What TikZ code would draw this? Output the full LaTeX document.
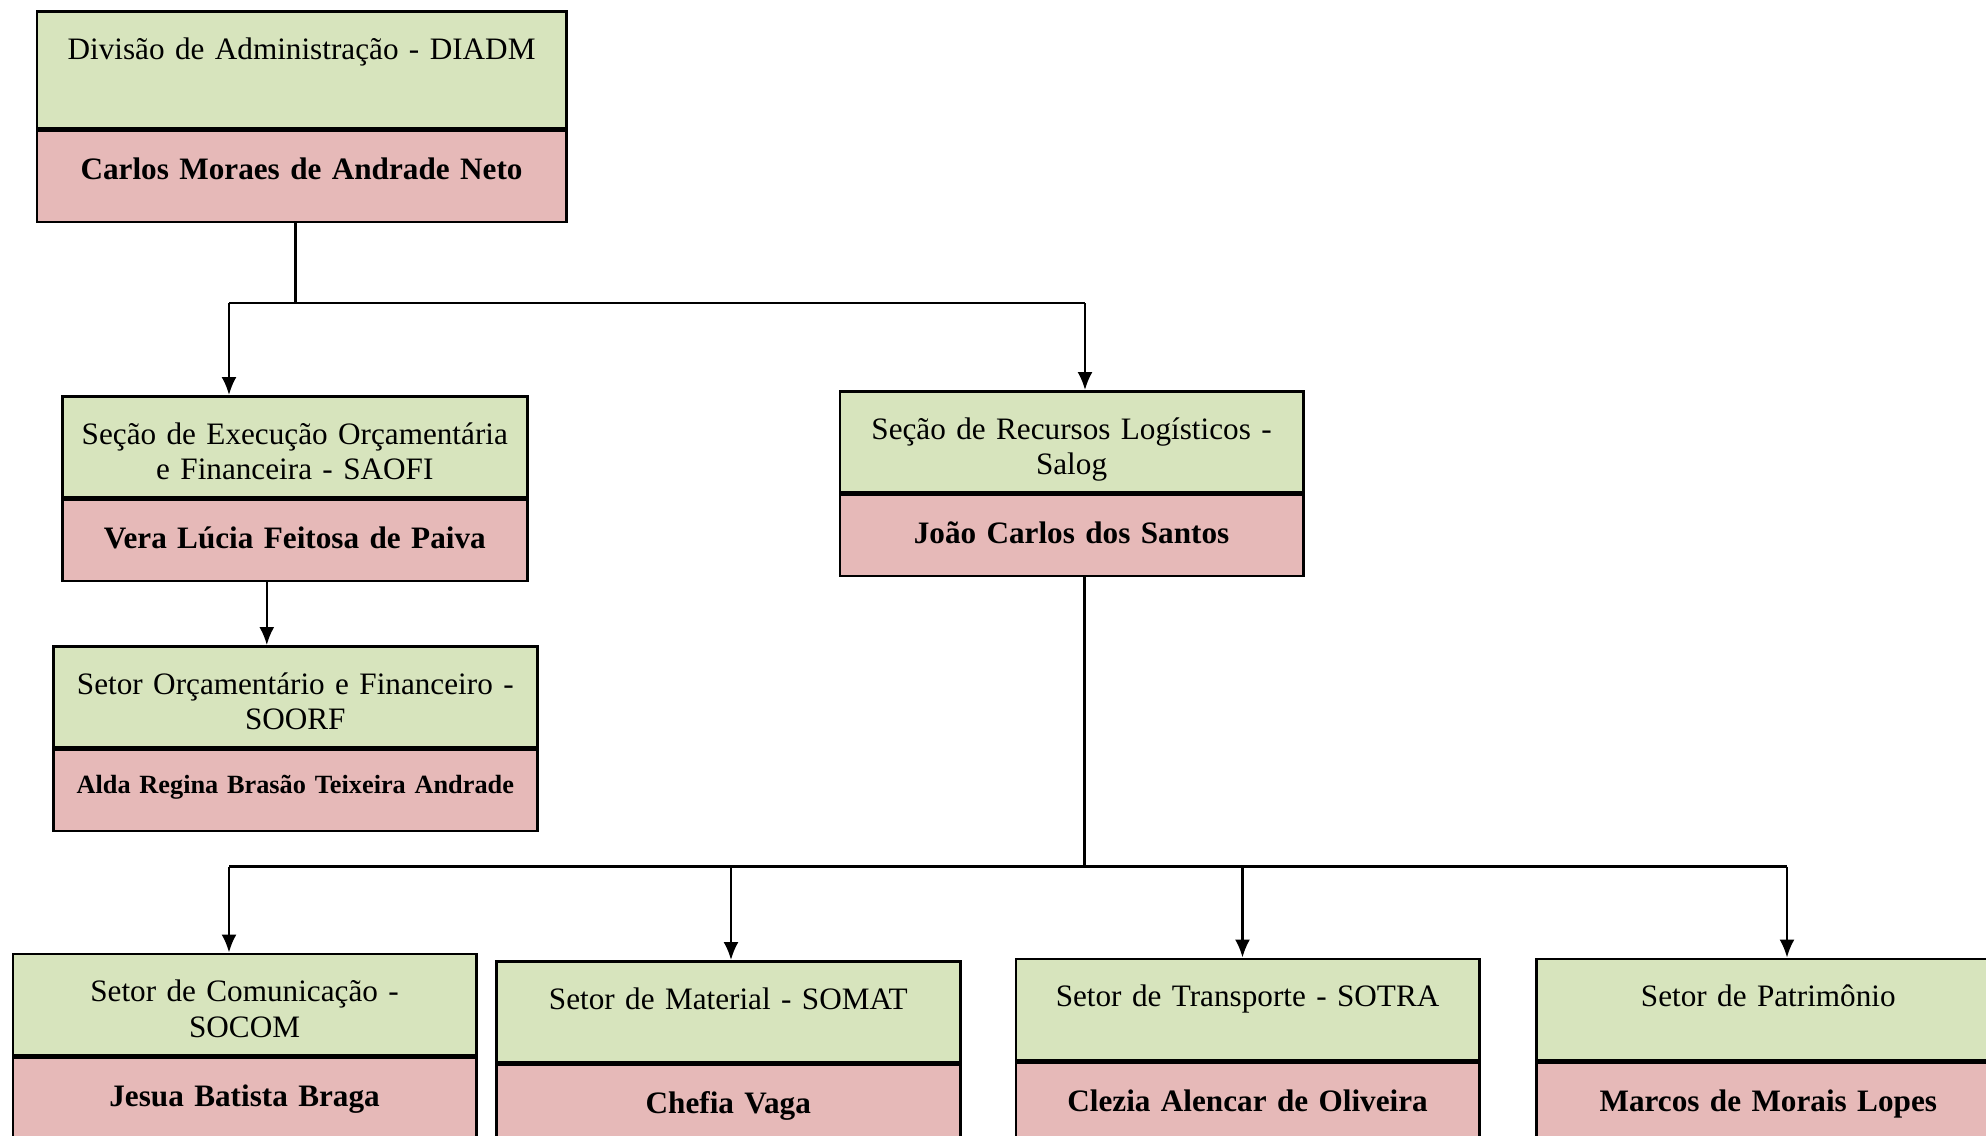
\documentclass[tikz,border=0pt]{standalone}
\usepackage{fontspec}
\setmainfont{Liberation Serif}
\usetikzlibrary{positioning, arrows.meta}
\definecolor{verdeorg}{HTML}{D7E4BD}
\definecolor{rosaorg}{HTML}{E6B9B8}

\begin{document}
\begin{tikzpicture}[x=1pt,y=-1pt,->,>={Latex[length=18pt,width=15pt]},line width=2.2pt]
  \tikzstyle{unidade}=[draw,line width=2.6pt,fill=verdeorg,inner sep=0pt,anchor=north west,align=center,
                       text height=48pt,text depth=53pt,font=\fontsize{31.2}{35.5}\selectfont]
  \tikzstyle{chefe}=[draw,line width=2.6pt,fill=rosaorg,inner sep=0pt,align=center,
                     text height=49pt,text depth=32pt,font=\fontsize{31.2}{35.5}\selectfont\bfseries]
  \useasboundingbox (0,0) rectangle (1986,1135);
  \fill[white] (0,0) rectangle (1986,1135);
  \clip (0,0) rectangle (1986,1135);
  % divisao
  \node[unidade,text width=529.5pt,text depth=69pt] (diadm) at (35.5,10) {Divisão de Administração - DIADM};
  \node[chefe,text width=529.5pt,text depth=42pt,below=0pt of diadm] (diadmN) {Carlos Moraes de Andrade Neto};
  % secoes
  \node[unidade,text width=465pt] (saofi) at (61,395) {Seção de Execução Orçamentária\\e Financeira - SAOFI};
  \node[chefe,text width=465pt,below=0pt of saofi] (saofiN) {Vera Lúcia Feitosa de Paiva};
  \node[unidade,text width=463.5pt] (salog) at (838.5,390) {Seção de Recursos Logísticos -\\Salog};
  \node[chefe,text width=463.5pt,below=0pt of salog] (salogN) {João Carlos dos Santos};
  \node[unidade,text width=484pt] (soorf) at (52,645) {Setor Orçamentário e Financeiro -\\SOORF};
  \node[chefe,text width=484pt,text height=43.5pt,text depth=37.5pt,
        font=\fontsize{26.3}{30}\selectfont\bfseries,below=0pt of soorf] (soorfN) {Alda Regina Brasão Teixeira Andrade};
  % setores
  \node[unidade,text width=463.5pt] (socom) at (11.5,952.5) {Setor de Comunicação -\\SOCOM};
  \node[chefe,text width=463.5pt,below=0pt of socom] (socomN) {Jesua Batista Braga};
  \node[unidade,text width=464pt] (somat) at (495,960) {Setor de Material - SOMAT};
  \node[chefe,text width=464pt,below=0pt of somat] (somatN) {Chefia Vaga};
  \node[unidade,text width=463.5pt] (sotra) at (1014.5,957.5) {Setor de Transporte - SOTRA};
  \node[chefe,text width=463.5pt,below=0pt of sotra] (sotraN) {Clezia Alencar de Oliveira};
  \node[unidade,text width=464pt] (patri) at (1535,957.5) {Setor de Patrimônio};
  \node[chefe,text width=464pt,below=0pt of patri] (patriN) {Marcos de Morais Lopes};
  % ligacoes
  \coordinate (barraA) at (229,303);
  \coordinate (barraB) at (1085,303);
  \coordinate (barraC) at (229,866.5);
  \coordinate (barraD) at (1787,866.5);
  \coordinate (ramoMat) at (731,866.5);
  \coordinate (ramoTra) at (1242.5,866.5);
  \draw[-] ([xshift=-6pt]diadmN.south) -- ([xshift=-6pt]diadmN.south |- barraA);
  \draw[-] (barraA) -- (barraB);
  \draw (barraA) -- (barraA |- saofi.north);
  \draw (barraB) -- (barraB |- salog.north);
  \draw ([xshift=-28pt]saofiN.south) -- ([xshift=-28pt]saofiN.south |- soorf.north);
  \draw[-] ([xshift=13pt]salogN.south) -- ([xshift=13pt]salogN.south |- barraC);
  \draw[-] (barraC) -- (barraD);
  \draw (barraC) -- (barraC |- socom.north);
  \draw (ramoMat) -- (ramoMat |- somat.north);
  \draw (ramoTra) -- (ramoTra |- sotra.north);
  \draw (barraD) -- (barraD |- patri.north);
\end{tikzpicture}
\end{document}
